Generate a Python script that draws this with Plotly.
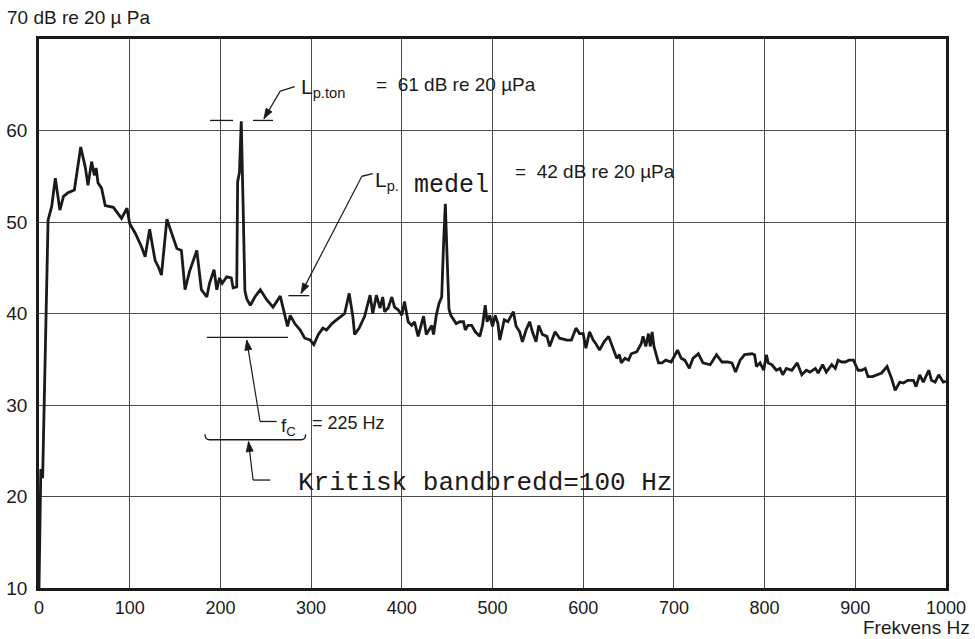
import math
import plotly.graph_objects as go

# ---- data ----
freq_hz = [0, 2, 4, 10, 14, 18, 23, 27, 32, 39, 46, 51, 54, 58, 61, 63, 65, 69, 73, 82, 91, 97, 100, 106, 113, 117,
           122, 128, 132, 135, 141, 146, 152, 157, 161, 166, 174, 179, 185, 188, 193, 196, 199, 202, 207, 212, 214,
           218, 219, 221, 223, 225, 227, 229, 233, 238, 244, 251, 258, 266, 271, 274, 277, 282, 288, 293, 299, 303,
           308, 313, 317, 323, 328, 334, 337, 342, 346, 348, 353, 359, 365, 368, 372, 376, 379, 381, 385, 389, 392,
           396, 400, 403, 407, 411, 414, 418, 421, 424, 427, 433, 435, 438, 441, 444, 446, 448, 450, 452, 454, 457,
           460, 464, 468, 470, 473, 477, 481, 486, 489, 492, 494, 497, 500, 503, 506, 508, 513, 517, 523, 526, 530,
           533, 537, 541, 544, 548, 551, 555, 560, 563, 569, 574, 582, 587, 592, 596, 600, 603, 607, 611, 614, 618,
           623, 628, 631, 637, 640, 642, 646, 650, 653, 659, 664, 666, 669, 672, 674, 676, 678, 683, 687, 691, 697,
           704, 708, 712, 717, 721, 727, 732, 740, 747, 753, 759, 764, 768, 773, 778, 786, 789, 791, 795, 799, 802,
           804, 808, 813, 817, 820, 824, 830, 836, 841, 846, 850, 856, 859, 864, 868, 874, 878, 881, 885, 889, 893,
           898, 903, 907, 911, 914, 919, 924, 929, 935, 940, 944, 949, 953, 958, 964, 967, 971, 975, 981, 984, 988,
           992, 997, 1000]
level_db = [10, 23, 22, 50.2, 51.7, 54.8, 51.3, 52.8, 53.2, 53.5, 58.2, 56.0, 54.0, 56.6, 55.1, 55.9, 54.3, 53.7, 51.8,
            51.6, 50.4, 51.5, 49.8, 48.8, 47.3, 46.2,
            49.2, 45.8, 45.0, 44.2, 50.3, 48.8, 47.1, 46.9, 42.6, 44.6, 46.9, 42.6, 41.8, 43.3, 44.8, 42.6, 43.9, 43.3,
            44.0, 43.9, 42.8,
            42.9, 54.4, 55.4, 61.0, 52.0, 42.5, 41.6, 40.9, 41.8, 42.6, 41.5, 40.7, 41.9, 39.8, 38.6, 39.8, 38.9, 38.2,
            37.3, 37.1, 36.6,
            37.7, 38.4, 38.2, 38.9, 39.3, 39.8, 40.0, 42.2, 39.7, 37.7, 38.4, 39.7, 42.0, 40.0, 42.0, 40.6, 41.8, 40.2,
            40.6, 41.8, 40.7,
            40.4, 39.8, 41.3, 39.1, 38.7, 39.1, 37.5, 38.6, 39.7, 37.7, 38.7, 37.7, 39.8, 41.1, 41.8, 47.5, 52.0, 46.0,
            40.5, 39.8, 39.3,
            38.9, 39.1, 39.1, 38.2, 38.7, 38.7, 38.0, 37.5, 38.7, 40.9, 39.1, 39.8, 38.6, 39.8, 38.9, 37.1, 39.3, 39.1,
            40.2, 38.6, 38.0,
            36.9, 38.2, 39.1, 38.0, 36.9, 38.7, 37.7, 37.5, 36.4, 38.0, 37.3, 37.1, 37.1, 38.4, 37.8, 37.8, 36.2, 38.0,
            37.1, 36.7, 36.0,
            36.9, 37.5, 36.7, 35.1, 35.5, 34.6, 35.1, 34.9, 35.6, 35.8, 36.7, 37.5, 36.4, 37.8, 36.4, 38.0, 36.4, 34.6,
            34.6, 34.9, 34.7,
            36.0, 35.1, 34.9, 34.0, 35.1, 35.6, 34.6, 34.4, 35.5, 34.7, 34.7, 34.6, 33.6, 34.9, 35.5, 35.6, 35.5, 34.2,
            34.6, 33.8, 35.5,
            34.6, 34.4, 33.8, 34.0, 33.3, 34.0, 33.8, 34.6, 33.3, 33.8, 33.6, 34.0, 33.5, 34.4, 33.6, 34.4, 34.0, 34.9,
            34.7, 34.7, 34.9,
            34.9, 33.8, 33.8, 34.0, 33.1, 33.1, 33.3, 33.5, 34.2, 32.9, 31.6, 32.5, 32.4, 32.7, 32.7, 32.0, 33.3, 32.5,
            33.8, 32.7, 32.5,
            33.3, 32.5, 32.6]

x_ticks = [0, 100, 200, 300, 400, 500, 600, 700, 800, 900, 1000]
x_tick_labels = ["0", "100", "200", "300", "400", "500", "600", "700", "800", "900", "1000"]
y_ticks = [10, 20, 30, 40, 50, 60]
y_tick_labels = ["10", "20", "30", "40", "50", "60"]

tone_level = 61
mean_level = 42
fc_hz = 225

SANS = "Liberation Sans, Arial, sans-serif"
MONO = "Liberation Mono, Courier New, monospace"
INK = "#1a1a1a"

# plot-area geometry (px) used to keep arrowheads undistorted
PX_PER_HZ = 907.0 / 1000.0
PX_PER_DB = 549.0 / 60.0

fig = go.Figure()
fig.add_trace(go.Scatter(x=freq_hz, y=level_db, mode="lines",
                         line=dict(color=INK, width=2.8), hoverinfo="skip", showlegend=False))

shapes = []
def seg(x0, y0, x1, y1, w=1.3):
    shapes.append(dict(type="line", xref="x", yref="y", x0=x0, y0=y0, x1=x1, y1=y1,
                       line=dict(color=INK, width=w)))

def arrow(x, y, ax, ay, length=10.0, half=3.5):
    """leader line from (ax, ay) to tip (x, y) with a filled triangular head"""
    seg(ax, ay, x, y, w=1.2)
    dx = (x - ax) * PX_PER_HZ
    dy = (y - ay) * PX_PER_DB
    n = math.hypot(dx, dy)
    ux, uy = dx / n, dy / n
    bx, by = -ux * length, -uy * length
    px_, py_ = -uy * half, ux * half
    p1 = (x + (bx + px_) / PX_PER_HZ, y + (by + py_) / PX_PER_DB)
    p2 = (x + (bx - px_) / PX_PER_HZ, y + (by - py_) / PX_PER_DB)
    shapes.append(dict(type="path", xref="x", yref="y",
                       path=f"M {x},{y} L {p1[0]},{p1[1]} L {p2[0]},{p2[1]} Z",
                       fillcolor=INK, line=dict(color=INK, width=0.8)))

# tone marker
seg(188.5, tone_level + 0.1, 214, tone_level + 0.1)
seg(236, tone_level + 0.1, 258, tone_level + 0.1)
seg(266, 64.3, 282, 64.8)
arrow(248, tone_level + 0.3, 266, 64.3)
# mean marker
seg(275, mean_level - 0.05, 298, mean_level - 0.05)
seg(356, 55.0, 368, 55.3)
arrow(289, mean_level + 0.2, 356, 55.0)
# fc marker
seg(185, 37.4, 274.5, 37.4)
seg(243.7, 28.2, 262, 28.2)
arrow(229, 37.1, 243.7, 28.2)
# bandwidth bracket
shapes.append(dict(type="path", xref="x", yref="y",
                   path="M 183,26.8 Q 183,26.2 188,26.2 L 289,26.2 Q 294,26.2 294,26.8",
                   line=dict(color=INK, width=1.3)))
seg(236, 21.8, 255, 21.8)
arrow(231, 26.0, 236, 21.8)

annotations = []
def txt(x, y, s, size, family=SANS, xanchor="left", xref="x", yref="y", yanchor="middle"):
    annotations.append(dict(x=x, y=y, xref=xref, yref=yref, text=s, showarrow=False,
                            xanchor=xanchor, yanchor=yanchor, borderpad=0,
                            font=dict(family=family, size=size, color=INK)))

txt(288.0, 64.7, "L<sub>p.ton</sub>", 21)
txt(370.5, 65.0, "=  61 dB re 20 \u00b5Pa", 19)
txt(369.5, 54.5, "L<sub>p.</sub>", 21)
txt(412, 54.0, "medel", 25, family=MONO)
txt(524, 55.5, "=  42 dB re 20 \u00b5Pa", 19)
txt(265.7, 27.6, "f<sub>C</sub>", 19)
txt(300, 28.0, "= 225 Hz", 18)
txt(284.5, 21.5, "Kritisk bandbredd=100 Hz", 26, family=MONO)

# axis captions (paper coords relative to the plot area: left 39px, right 946px, top 39px, bottom 588px)
PW, PH = 907.0, 549.0
txt((6 - 39) / PW, (588 - 18) / PH, "70 dB re 20 \u00b5 Pa", 19, xref="paper", yref="paper")
txt((971 - 39) / PW, (588 - 639) / PH, "Frekvens Hz", 19, xanchor="right", yanchor="bottom",
    xref="paper", yref="paper")

fig.update_layout(
    width=975, height=639,
    margin=dict(l=39, r=29, t=39, b=51, autoexpand=False),
    paper_bgcolor="white", plot_bgcolor="white",
    shapes=shapes, annotations=annotations,
    showlegend=False,
)
fig.update_xaxes(range=[0, 1000], tickvals=x_ticks, ticktext=x_tick_labels,
                 showgrid=True, gridcolor="#4a4a4a", gridwidth=1,
                 showline=True, mirror=True, linecolor=INK, linewidth=2.6,
                 ticks="", ticklabelstandoff=2, zeroline=False,
                 tickfont=dict(family=SANS, size=18, color=INK))
fig.update_yaxes(range=[10, 70], tickvals=y_ticks, ticktext=y_tick_labels,
                 showgrid=True, gridcolor="#4a4a4a", gridwidth=1,
                 showline=True, mirror=True, linecolor=INK, linewidth=2.6,
                 ticks="", ticklabelstandoff=5, zeroline=False,
                 tickfont=dict(family=SANS, size=19, color=INK))

# remove the default 8px page margin so the figure sits at the window origin
fig.write_html("out.html", config={"displayModeBar": False},
               post_script="document.body.style.margin='0';")
